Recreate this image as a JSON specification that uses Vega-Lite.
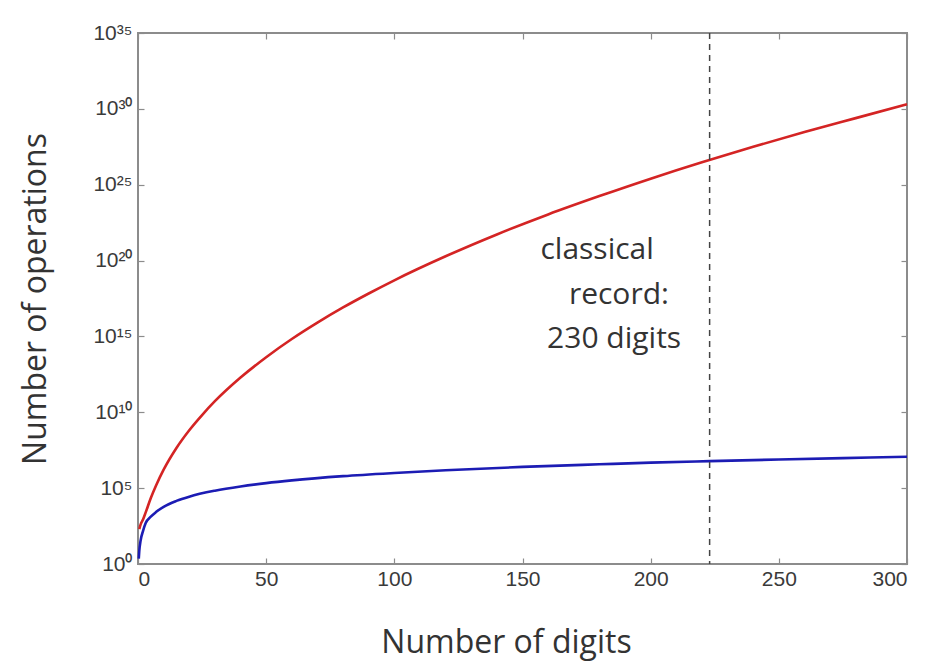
{
  "$schema": "https://vega.github.io/schema/vega-lite/v6.json",
  "width": 769,
  "height": 531,
  "autosize": "none",
  "padding": {"left": 138, "top": 33, "right": 22, "bottom": 102},
  "background": "white",
  "config": {
    "view": {"stroke": "#8c8c8c", "strokeWidth": 2},
    "axis": {
      "domain": false,
      "grid": false,
      "tickColor": "#8c8c8c",
      "tickWidth": 1.2,
      "tickSize": -6,
      "labelFont": "Liberation Sans",
      "labelFontSize": 21,
      "labelColor": "#3a3a3a",
      "titleFont": "Open Sans",
      "titleFontSize": 32,
      "titleFontWeight": "normal",
      "titleColor": "#333333"
    }
  },
  "datasets": {
    "curves": [
      {"digits": 0.5, "operations": 2.0e2, "method": "classical"},
      {"digits": 1, "operations": 3.98e2, "method": "classical"},
      {"digits": 2, "operations": 8.91e2, "method": "classical"},
      {"digits": 3, "operations": 2.51e3, "method": "classical"},
      {"digits": 5, "operations": 2.24e4, "method": "classical"},
      {"digits": 7, "operations": 1.45e5, "method": "classical"},
      {"digits": 10, "operations": 1.66e6, "method": "classical"},
      {"digits": 15, "operations": 4.47e7, "method": "classical"},
      {"digits": 20, "operations": 6.61e8, "method": "classical"},
      {"digits": 25, "operations": 6.61e9, "method": "classical"},
      {"digits": 30, "operations": 5.37e10, "method": "classical"},
      {"digits": 40, "operations": 1.95e12, "method": "classical"},
      {"digits": 50, "operations": 4.27e13, "method": "classical"},
      {"digits": 60, "operations": 6.76e14, "method": "classical"},
      {"digits": 70, "operations": 8.13e15, "method": "classical"},
      {"digits": 80, "operations": 8.13e16, "method": "classical"},
      {"digits": 90, "operations": 6.76e17, "method": "classical"},
      {"digits": 100, "operations": 5.01e18, "method": "classical"},
      {"digits": 120, "operations": 1.91e20, "method": "classical"},
      {"digits": 140, "operations": 5.25e21, "method": "classical"},
      {"digits": 160, "operations": 1.10e23, "method": "classical"},
      {"digits": 180, "operations": 1.78e24, "method": "classical"},
      {"digits": 200, "operations": 2.51e25, "method": "classical"},
      {"digits": 220, "operations": 3.02e26, "method": "classical"},
      {"digits": 240, "operations": 3.16e27, "method": "classical"},
      {"digits": 260, "operations": 2.95e28, "method": "classical"},
      {"digits": 280, "operations": 2.45e29, "method": "classical"},
      {"digits": 300, "operations": 2.0e30, "method": "classical"},
      {"digits": 0.3, "operations": 2.29, "method": "quantum"},
      {"digits": 0.5, "operations": 7.24, "method": "quantum"},
      {"digits": 1, "operations": 33.9, "method": "quantum"},
      {"digits": 2, "operations": 158, "method": "quantum"},
      {"digits": 3, "operations": 501, "method": "quantum"},
      {"digits": 5, "operations": 1318, "method": "quantum"},
      {"digits": 7, "operations": 2630, "method": "quantum"},
      {"digits": 10, "operations": 5890, "method": "quantum"},
      {"digits": 15, "operations": 14450, "method": "quantum"},
      {"digits": 20, "operations": 27540, "method": "quantum"},
      {"digits": 30, "operations": 67600, "method": "quantum"},
      {"digits": 40, "operations": 129000, "method": "quantum"},
      {"digits": 50, "operations": 214000, "method": "quantum"},
      {"digits": 60, "operations": 324000, "method": "quantum"},
      {"digits": 80, "operations": 617000, "method": "quantum"},
      {"digits": 100, "operations": 1000000, "method": "quantum"},
      {"digits": 120, "operations": 1510000, "method": "quantum"},
      {"digits": 150, "operations": 2510000, "method": "quantum"},
      {"digits": 180, "operations": 3720000, "method": "quantum"},
      {"digits": 200, "operations": 4790000, "method": "quantum"},
      {"digits": 223, "operations": 6030000, "method": "quantum"},
      {"digits": 250, "operations": 7760000, "method": "quantum"},
      {"digits": 275, "operations": 9550000, "method": "quantum"},
      {"digits": 300, "operations": 11750000, "method": "quantum"}
    ],
    "record": [{"digits": 223}],
    "notes": [
      {"digits": 157.0, "operations": 1.26e20, "label": "classical"},
      {"digits": 168.1, "operations": 1.32e17, "label": "record:"},
      {"digits": 159.6, "operations": 1.78e14, "label": "230 digits"}
    ]
  },
  "layer": [
    {
      "data": {"name": "curves"},
      "mark": {"type": "line", "strokeWidth": 2.6, "interpolate": "monotone"},
      "encoding": {
        "x": {
          "field": "digits", "type": "quantitative",
          "scale": {"domain": [0, 300], "nice": false, "zero": false},
          "axis": {"orient": "bottom", "values": [0, 50, 100, 150, 200, 250, 300], "title": "Number of digits", "labelFontSize": 21, "labelPadding": 10, "titlePadding": 38, "titleX": 368, "titleAlign": "center"}
        },
        "y": {
          "field": "operations", "type": "quantitative",
          "scale": {"type": "log", "domain": [1, 1e35], "nice": false},
          "axis": {
            "orient": "left",
            "values": [1, 1e5, 1e10, 1e15, 1e20, 1e25, 1e30, 1e35],
            "labelExpr": "['10⁰','10⁵','10¹⁰','10¹⁵','10²⁰','10²⁵','10³⁰','10³⁵'][round(log(datum.value)/LN10/5)]",
            "labelFontSize": 21,
            "title": "Number of operations",
            "labelPadding": 12,
            "titlePadding": 40
          }
        },
        "color": {
          "field": "method", "type": "nominal",
          "scale": {"domain": ["classical", "quantum"], "range": ["#d42424", "#1c1cb4"]},
          "legend": null
        }
      }
    },
    {
      "data": {"name": "record"},
      "mark": {"type": "rule", "color": "#444444", "strokeWidth": 1.5, "strokeDash": [6, 5]},
      "encoding": {
        "x": {
          "field": "digits", "type": "quantitative",
          "axis": {"orient": "top", "values": [0, 50, 100, 150, 200, 250, 300], "labels": false, "title": null}
        }
      }
    },
    {
      "data": {"name": "notes"},
      "mark": {"type": "text", "align": "left", "baseline": "alphabetic", "font": "Open Sans", "fontSize": 30, "color": "#333333"},
      "encoding": {
        "x": {"field": "digits", "type": "quantitative", "axis": null},
        "y": {
          "field": "operations", "type": "quantitative",
          "axis": {"orient": "right", "values": [1, 1e5, 1e10, 1e15, 1e20, 1e25, 1e30, 1e35], "labels": false, "title": null}
        },
        "text": {"field": "label"}
      }
    }
  ],
  "resolve": {"axis": {"x": "independent", "y": "independent"}}
}
